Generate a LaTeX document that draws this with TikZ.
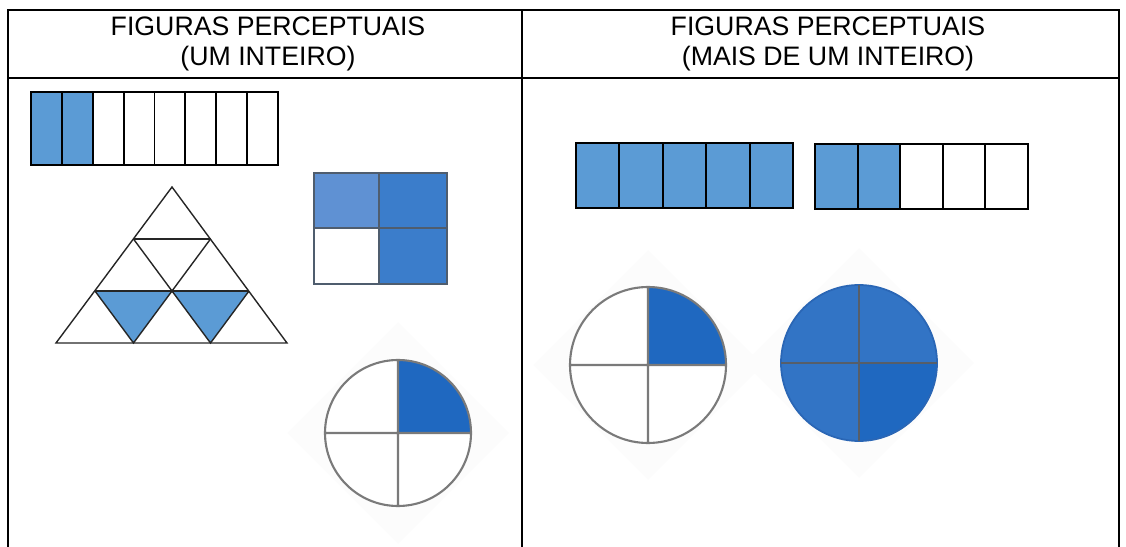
\documentclass[tikz,border=0pt]{standalone}
\usepackage{fontspec}
\setmainfont{Liberation Sans}
\definecolor{barblue}{HTML}{5B9BD5}
\definecolor{sqlight}{HTML}{5F91D3}
\definecolor{sqdark}{HTML}{3B7DCB}
\definecolor{sqedge}{HTML}{4F5D6E}
\definecolor{pieblue}{HTML}{1F68C0}
\definecolor{pieblue2}{HTML}{3274C5}
\definecolor{pieedge}{HTML}{2A66B5}
\definecolor{piegray}{HTML}{7A7A7A}
\definecolor{piecross}{HTML}{565E69}

\begin{document}
\begin{tikzpicture}[x=0.02cm,y=-0.02cm,
  frame/.style={line width=1.2pt},
  cell/.style={draw=black,line width=1.1pt},
  tri/.style={draw=black!85,line width=0.8pt},
  pie/.style={draw=piegray,line width=1.2pt},
  ghost/.style={fill=black!1},
  head/.style={align=center,inner sep=0pt,font=\fontsize{15.2}{17.2}\selectfont}]
\useasboundingbox (0,0) rectangle (1126,547);
% the table and its two headings
\draw[frame] (8,547) -- (8,10) -- (1119,10) -- (1119,547);
\draw[frame] (8,78) -- (1119,78); \draw[frame] (522,10) -- (522,547);
\node[head] (leftHead) at (268,44) {FIGURAS PERCEPTUAIS\\(UM INTEIRO)};
\node[head] (rightHead) at (828,44) {FIGURAS PERCEPTUAIS\\(MAIS DE UM INTEIRO)};
% left column: bar of eight, two coloured
\fill[barblue] (31,92) rectangle (92.75,165);
\foreach \i in {0,...,7} \draw[cell] ({31+\i*30.875},92) rectangle ++(30.875,73);
% triangle cut in nine, two coloured
\fill[barblue] (95,291) -- (172,291) -- (133.5,343) -- cycle; \fill[barblue] (172,291) -- (249,291) -- (210.5,343) -- cycle;
\draw[tri] (172,187) -- (56,343) -- (287,343) -- cycle;
\draw[tri] (133.5,239) -- (210.5,239) (95,291) -- (249,291);
\draw[tri] (133.5,239) -- (172,291) -- (210.5,239) (95,291) -- (133.5,343) -- (172,291) -- (210.5,343) -- (249,291);
% square of four, three coloured
\fill[sqlight] (314,173) rectangle (379,228); \fill[sqdark] (379,173) rectangle (447,284);
\draw[sqedge, line width=1.6pt] (314,173) rectangle (447,284) (379,173) -- (379,284) (314,228) -- (447,228);
% circle of four, one coloured
\fill[ghost] (398,322) -- (509,433) -- (398,544) -- (287,433) -- cycle;
\fill[white] (398,433) circle (73);
\fill[pieblue] (398,433) -- ++(73,0) arc[start angle=0, end angle=-90, radius=73] -- cycle;
\draw[pie] (398,433) circle (73) (325,433) -- (471,433) (398,360) -- (398,506);
% right column: a full bar of five and a bar of five with two coloured
\fill[barblue] (576,143) rectangle (793,208);
\foreach \i in {0,...,4} \draw[cell] ({576+\i*43.4},143) rectangle ++(43.4,65);
\fill[barblue] (815,144) rectangle (900.2,209);
\foreach \i in {0,...,4} \draw[cell] ({815+\i*42.6},144) rectangle ++(42.6,65);
% circle with one quarter, and a whole circle
\fill[ghost] (648,250) -- (763,365) -- (648,480) -- (533,365) -- cycle;
\fill[ghost] (859,248) -- (974,363) -- (859,478) -- (744,363) -- cycle;
\fill[white] (648,365) circle (78);
\fill[pieblue] (648,365) -- ++(78,0) arc[start angle=0, end angle=-90, radius=78] -- cycle;
\draw[pie] (648,365) circle (78) (570,365) -- (726,365) (648,287) -- (648,443);
\fill[pieblue2] (859,363) circle (78);
\fill[pieblue] (859,363) -- ++(78,0) arc[start angle=0, end angle=90, radius=78] -- cycle;
\draw[pieedge, line width=1pt] (859,363) circle (78);
\draw[piecross, line width=1.4pt] (781,363) -- (937,363) (859,285) -- (859,441);
\end{tikzpicture}
\end{document}
